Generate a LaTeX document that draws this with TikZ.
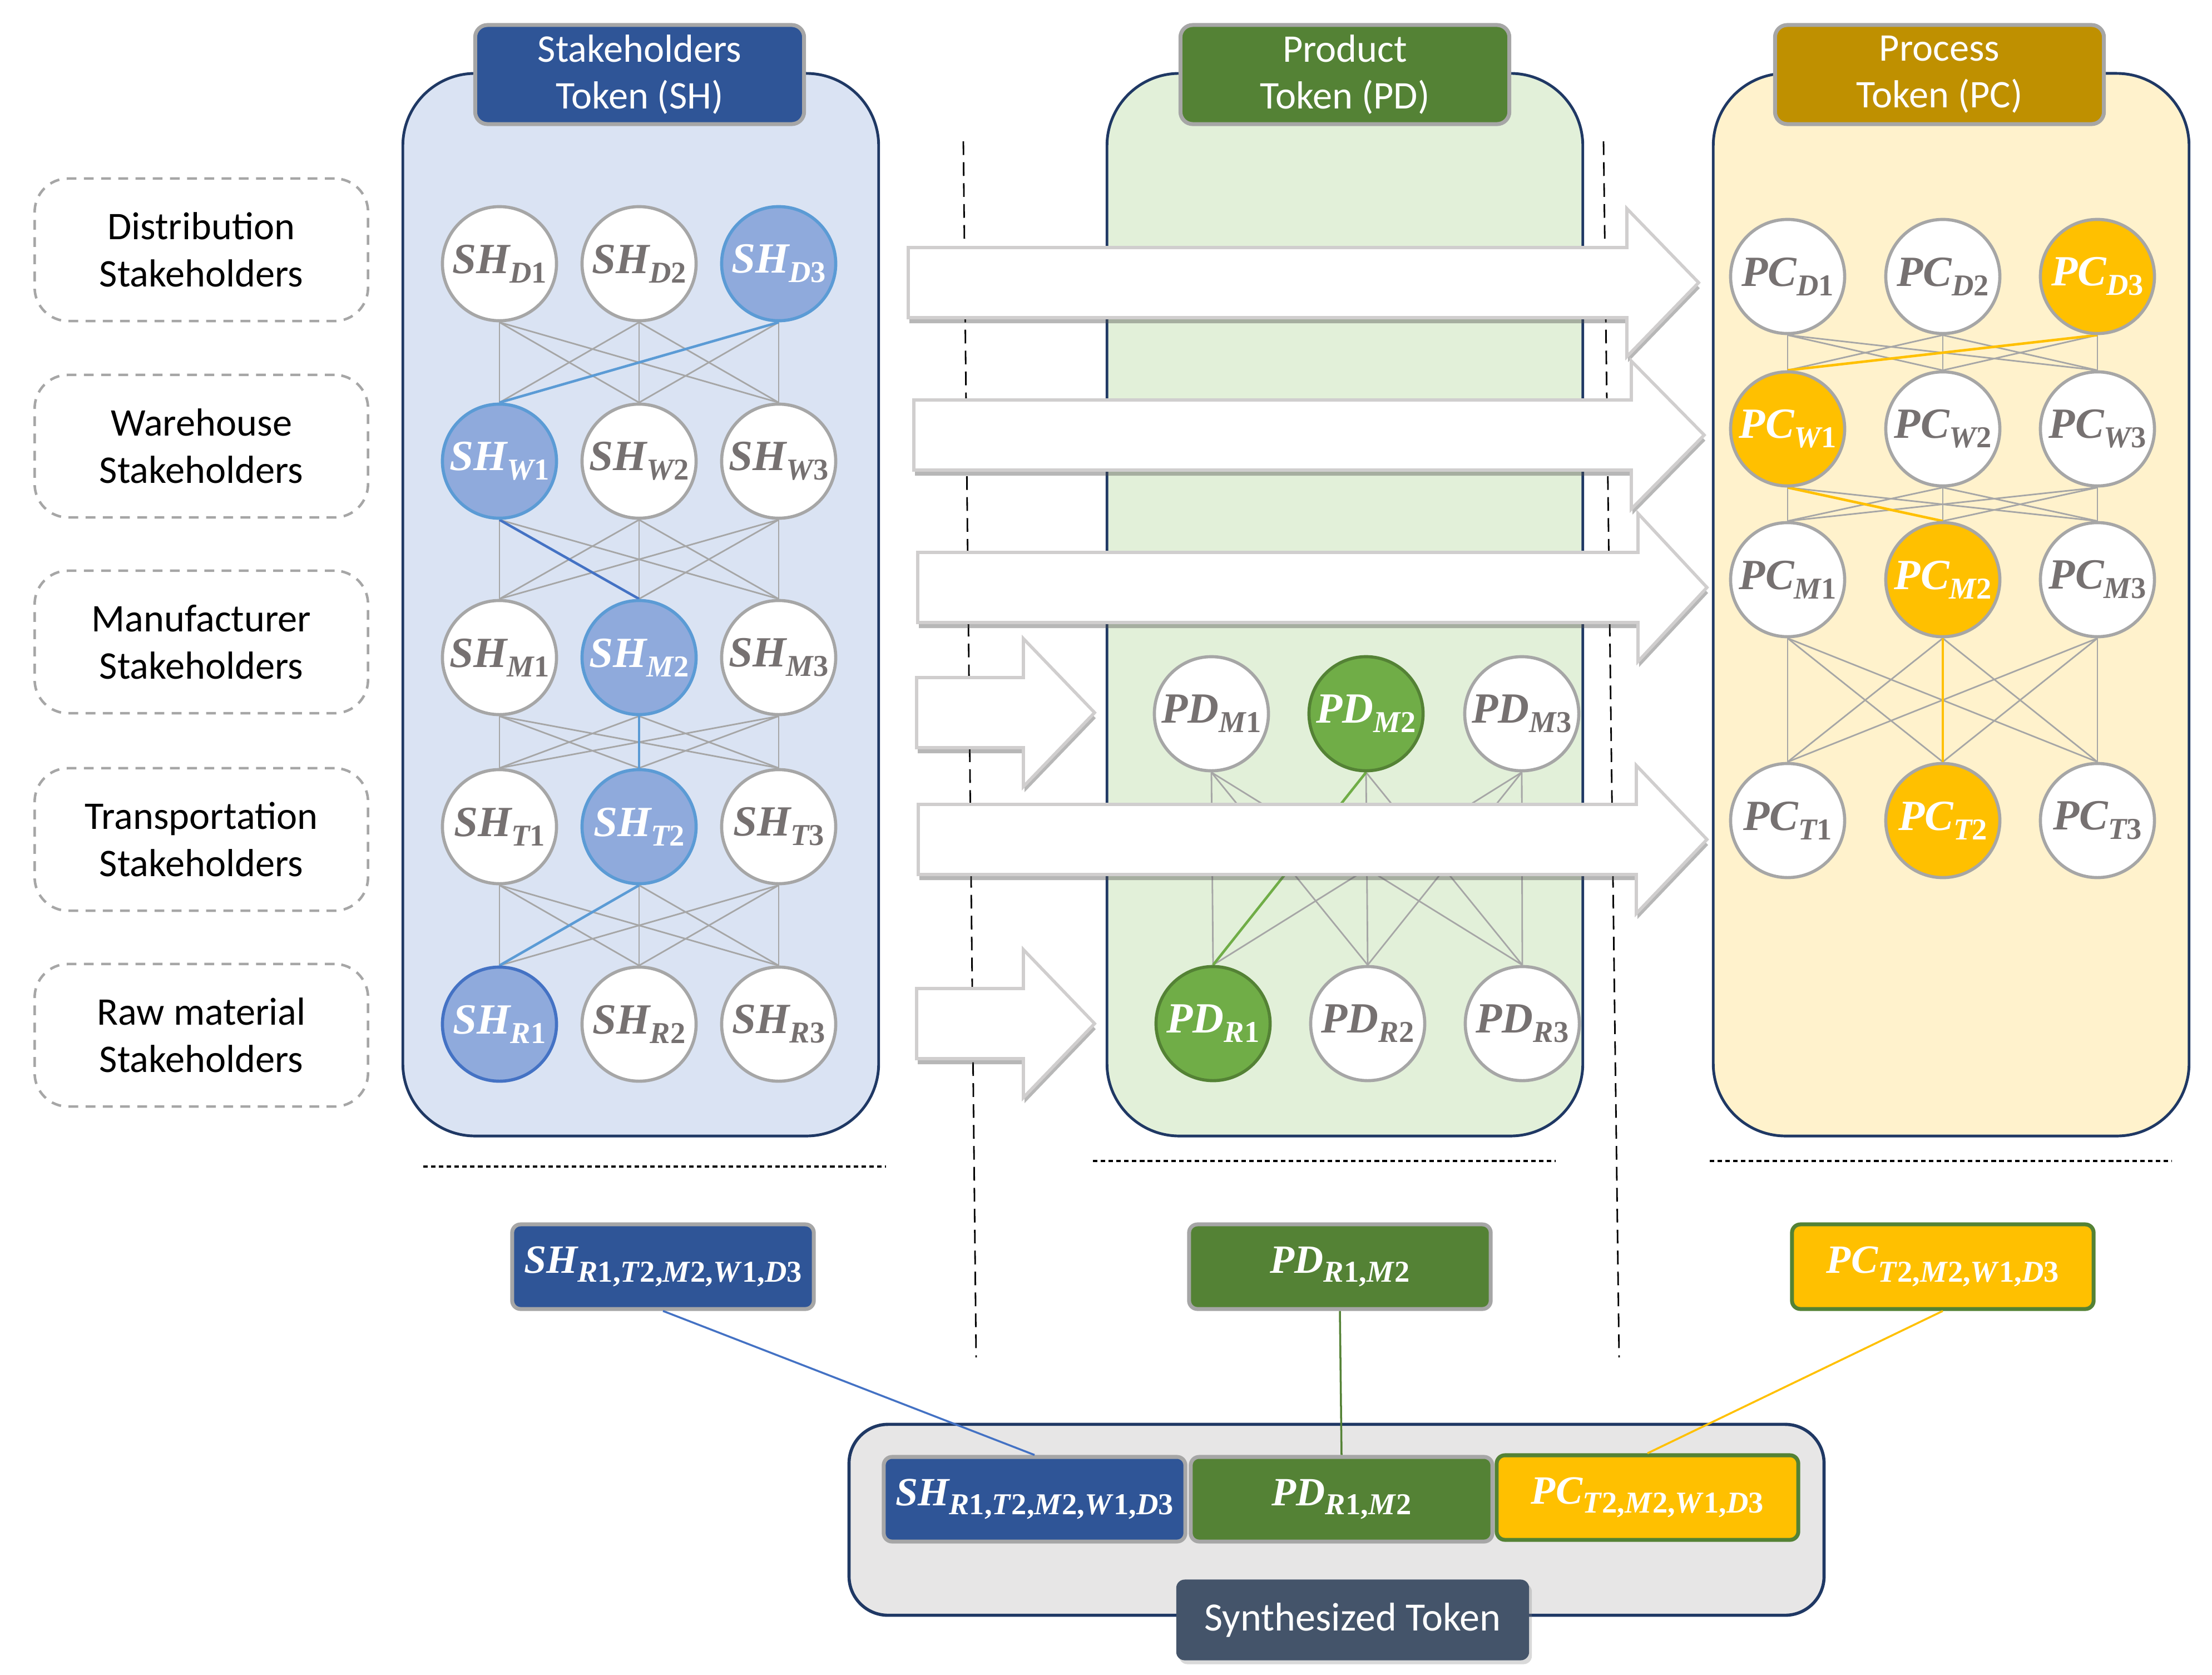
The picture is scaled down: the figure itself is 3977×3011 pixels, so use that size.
\documentclass[tikz,border=0pt]{standalone}
\usepackage{fontspec}
\setmainfont{Carlito}
\newfontfamily\tokfont{Liberation Serif}
\usepackage{xcolor}
\usepackage{tikz}
\usetikzlibrary{shadows, backgrounds}
\definecolor{shblue}{RGB}{47, 85, 151}
\definecolor{shpanel}{RGB}{218, 227, 243}
\definecolor{shnode}{RGB}{143, 170, 220}
\definecolor{shedge}{RGB}{91, 155, 213}
\definecolor{shdark}{RGB}{68, 114, 196}
\definecolor{pdgreen}{RGB}{84, 130, 53}
\definecolor{pdpanel}{RGB}{226, 240, 217}
\definecolor{pdnode}{RGB}{112, 173, 71}
\definecolor{pcgold}{RGB}{191, 144, 0}
\definecolor{pcpanel}{RGB}{255, 242, 204}
\definecolor{pcnode}{RGB}{255, 192, 0}
\definecolor{navy}{RGB}{31, 56, 100}
\definecolor{linegray}{RGB}{166, 166, 166}
\definecolor{textgray}{RGB}{118, 113, 113}
\definecolor{arrowgray}{RGB}{208, 206, 206}
\definecolor{synbg}{RGB}{231, 230, 230}
\definecolor{slate}{RGB}{68, 84, 106}
\pgfdeclarelayer{links}
\pgfsetlayers{background,links,main}
\newcommand{\tok}[3]{{\tokfont\bfseries\itshape #1\raisebox{-0.17cm}{\fontsize{15.5}{15.5}\selectfont #2\upshape #3}}}
\newcommand{\restok}[2]{{\tokfont\bfseries\itshape #1\raisebox{-0.16cm}{\fontsize{15.5}{15.5}\selectfont #2}}}
\newcommand{\ix}[2]{#1\textup{#2}}
\tikzset{
    rowlabel/.style={rectangle, rounded corners=0.6cm, draw=linegray, line width=1.3pt, dash pattern=on 5pt off 3.8pt, minimum width=5.99cm, minimum height=2.56cm, align=center, font=\fontsize{20}{24}\selectfont},
    panel/.style={rectangle, rounded corners=1.3cm, draw=navy, line width=1.4pt, minimum width=8.55cm, minimum height=19.09cm},
    header/.style={rectangle, rounded corners=0.22cm, draw=linegray, line width=2pt, minimum width=5.91cm, minimum height=1.78cm, text=white, align=center, font=\fontsize{20}{24}\selectfont},
    token/.style={circle, draw=linegray, line width=1.6pt, fill=white, minimum size=2.05cm, inner sep=0pt, text=textgray, font=\fontsize{22}{22}\selectfont},
    shsel/.style={fill=shnode, draw=shedge, text=white},
    pdsel/.style={fill=pdnode, draw=pdgreen, text=white},
    pcsel/.style={fill=pcnode, text=white},
    link/.style={draw=linegray, line width=0.8pt},
    hilink/.style={line width=1.3pt},
    flowarrow/.style={draw=arrowgray, line width=1.6pt, fill=white, line join=miter, drop shadow={shadow xshift=0.02cm, shadow yshift=-0.1cm, opacity=0.4, fill=black!70}},
    sepline/.style={draw=black, line width=0.8pt, dash pattern=on 7pt off 3.7pt},
    tokensep/.style={draw=black, line width=1.4pt, dash pattern=on 2.3pt off 1.7pt},
    resbox/.style={rectangle, rounded corners=0.15cm, line width=2pt, minimum width=5.42cm, minimum height=1.52cm, inner sep=2pt, text=white, font=\fontsize{20.5}{20.5}\selectfont},
    synbox/.style={rectangle, rounded corners=0.7cm, draw=navy, fill=synbg, line width=1.6pt, minimum width=17.52cm, minimum height=3.43cm},
    synlabel/.style={rectangle, rounded corners=0.15cm, fill=slate, text=white, minimum width=6.34cm, minimum height=1.45cm, font=\fontsize{20.5}{24}\selectfont, drop shadow={shadow xshift=0.05cm, shadow yshift=-0.07cm, opacity=0.3}}
}
\begin{document}
\begin{tikzpicture}[x=0.01cm, y=-0.01cm]
    \useasboundingbox (0,0) rectangle (3977,3011);

    % Row labels
    \node[rowlabel] (lblD) at (362,449) {Distribution\\Stakeholders};
    \node[rowlabel] (lblW) at (362,802) {Warehouse\\Stakeholders};
    \node[rowlabel] (lblM) at (362,1154) {Manufacturer\\Stakeholders};
    \node[rowlabel] (lblT) at (362,1509) {Transportation\\Stakeholders};
    \node[rowlabel] (lblR) at (362,1861) {Raw material\\Stakeholders};

    % Separators
    \draw[sepline] (1732,254) -- (1755,2440);
    \draw[sepline] (2883,254) -- (2911,2440);

    % Panels
    \begin{scope}[on background layer]
        \node[panel, fill=shpanel] (shbox) at (1152,1087) {};
        \node[panel, fill=pdpanel] (pdbox) at (2418,1087) {};
        \node[panel, fill=pcpanel] (pcbox) at (3508,1087) {};
    \end{scope}
    \node[header, fill=shblue] (shhead) at (1150,134) {Stakeholders\\Token (SH)};
    \node[header, fill=pdgreen] (pdhead) at (2418,134) {Product\\Token (PD)};
    \node[header, fill=pcgold] (pchead) at (3487,134) {Process\\Token (PC)};

    % Stakeholders token
    \node[token] (shD1) at (898,474) {\tok{SH}{D}{1}};
    \node[token] (shD2) at (1149,474) {\tok{SH}{D}{2}};
    \node[token, shsel] (shD3) at (1400,474) {\tok{SH}{D}{3}};
    \node[token, shsel] (shW1) at (898,829) {\tok{SH}{W}{1}};
    \node[token] (shW2) at (1149,829) {\tok{SH}{W}{2}};
    \node[token] (shW3) at (1400,829) {\tok{SH}{W}{3}};
    \node[token] (shM1) at (898,1182) {\tok{SH}{M}{1}};
    \node[token, shsel] (shM2) at (1149,1182) {\tok{SH}{M}{2}};
    \node[token] (shM3) at (1400,1182) {\tok{SH}{M}{3}};
    \node[token] (shT1) at (898,1486) {\tok{SH}{T}{1}};
    \node[token, shsel] (shT2) at (1149,1486) {\tok{SH}{T}{2}};
    \node[token] (shT3) at (1400,1486) {\tok{SH}{T}{3}};
    \node[token, shsel, draw=shdark] (shR1) at (898,1841) {\tok{SH}{R}{1}};
    \node[token] (shR2) at (1149,1841) {\tok{SH}{R}{2}};
    \node[token] (shR3) at (1400,1841) {\tok{SH}{R}{3}};

    % Product token
    \node[token] (pdM1) at (2178,1283) {\tok{PD}{M}{1}};
    \node[token, pdsel] (pdM2) at (2456,1283) {\tok{PD}{M}{2}};
    \node[token] (pdM3) at (2736,1283) {\tok{PD}{M}{3}};
    \node[token, pdsel] (pdR1) at (2181,1840) {\tok{PD}{R}{1}};
    \node[token] (pdR2) at (2459,1840) {\tok{PD}{R}{2}};
    \node[token] (pdR3) at (2737,1840) {\tok{PD}{R}{3}};

    % Process token
    \node[token] (pcD1) at (3214,497) {\tok{PC}{D}{1}};
    \node[token] (pcD2) at (3493,497) {\tok{PC}{D}{2}};
    \node[token, pcsel] (pcD3) at (3771,497) {\tok{PC}{D}{3}};
    \node[token, pcsel] (pcW1) at (3214,771) {\tok{PC}{W}{1}};
    \node[token] (pcW2) at (3493,771) {\tok{PC}{W}{2}};
    \node[token] (pcW3) at (3771,771) {\tok{PC}{W}{3}};
    \node[token] (pcM1) at (3214,1042) {\tok{PC}{M}{1}};
    \node[token, pcsel] (pcM2) at (3493,1042) {\tok{PC}{M}{2}};
    \node[token] (pcM3) at (3771,1042) {\tok{PC}{M}{3}};
    \node[token] (pcT1) at (3214,1475) {\tok{PC}{T}{1}};
    \node[token, pcsel] (pcT2) at (3493,1475) {\tok{PC}{T}{2}};
    \node[token] (pcT3) at (3771,1475) {\tok{PC}{T}{3}};

    % Links
    \begin{pgfonlayer}{links}
        \foreach \a/\b in {D/W, W/M, M/T, T/R}
            \foreach \i in {1,2,3}
                \foreach \j in {1,2,3}
                    \draw[link] (sh\a\i.south) -- (sh\b\j.north);
        \foreach \i in {1,2,3}
            \foreach \j in {1,2,3}
                \draw[link] (pdM\i.south) -- (pdR\j.north);
        \foreach \a/\b in {D/W, W/M, M/T}
            \foreach \i in {1,2,3}
                \foreach \j in {1,2,3}
                    \draw[link] (pc\a\i.south) -- (pc\b\j.north);
        \draw[hilink, shedge] (shD3.south) -- (shW1.north);
        \draw[hilink, shdark] (shW1.south) -- (shM2.north);
        \draw[hilink, shedge] (shM2.south) -- (shT2.north);
        \draw[hilink, shedge] (shT2.south) -- (shR1.north);
        \draw[hilink, pdnode] (pdM2.south) -- (pdR1.north);
        \draw[hilink, pcnode] (pcD3.south) -- (pcW1.north);
        \draw[hilink, pcnode] (pcW1.south) -- (pcM2.north);
        \draw[hilink, pcnode] (pcM2.south) -- (pcT2.north);
    \end{pgfonlayer}

    % Flow arrows
    \foreach \xs/\xh/\xt/\yc in {1633/2925/3054/508, 1643/2933/3064/782, 1650/2945/3069/1056, 1651/2942/3069/1509, 1648/1840/1968/1281, 1648/1840/1968/1840}
        \draw[flowarrow] (\xs,\yc-63) -- (\xh,\yc-63) -- (\xh,\yc-133) -- (\xt,\yc) -- (\xh,\yc+133) -- (\xh,\yc+63) -- (\xs,\yc+63) -- cycle;

    % Token results
    \draw[tokensep] (761,2097) -- (1593,2097);
    \draw[tokensep] (1965,2087) -- (2797,2087);
    \draw[tokensep] (3074,2087) -- (3905,2087);
    \node[resbox, fill=shblue, draw=linegray] (shres) at (1192,2277) {\restok{SH}{\ix{R}{1,}\ix{T}{2,}\ix{M}{2,}\ix{W}{1,}\ix{D}{3}}};
    \node[resbox, fill=pdgreen, draw=linegray] (pdres) at (2409,2277) {\restok{PD}{\ix{R}{1,}\ix{M}{2}}};
    \node[resbox, fill=pcnode, draw=pdgreen] (pcres) at (3493,2277) {\restok{PC}{\ix{T}{2,}\ix{M}{2,}\ix{W}{1,}\ix{D}{3}}};

    % Synthesized token
    \node[synbox] (synbox) at (2403,2732) {};
    \node[resbox, fill=shblue, draw=linegray] (shsyn) at (1860,2695) {\restok{SH}{\ix{R}{1,}\ix{T}{2,}\ix{M}{2,}\ix{W}{1,}\ix{D}{3}}};
    \node[resbox, fill=pdgreen, draw=linegray] (pdsyn) at (2412,2695) {\restok{PD}{\ix{R}{1,}\ix{M}{2}}};
    \node[resbox, fill=pcnode, draw=pdgreen] (pcsyn) at (2962,2692) {\restok{PC}{\ix{T}{2,}\ix{M}{2,}\ix{W}{1,}\ix{D}{3}}};
    \node[synlabel] (synlabel) at (2432,2912) {Synthesized Token};

    % Connections
    \draw[shdark, line width=1pt] (shres.south) -- (shsyn.north);
    \draw[pdgreen, line width=1pt] (pdres.south) -- (pdsyn.north);
    \draw[pcnode, line width=1pt] (pcres.south) -- (pcsyn.north);

\end{tikzpicture}
\end{document}
